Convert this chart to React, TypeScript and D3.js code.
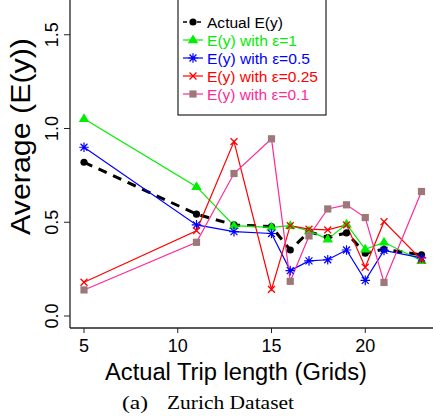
import React from 'react';
import * as d3 from 'd3';

// trip length (grids)
const tripLength = [5, 11, 13, 15, 16, 17, 18, 19, 20, 21, 23];

const actualEy = [0.82, 0.543, 0.486, 0.477, 0.352, 0.45, 0.418, 0.443, 0.335, 0.356, 0.326];
const eps1 = [1.052, 0.69, 0.482, 0.473, 0.482, 0.454, 0.41, 0.49, 0.356, 0.393, 0.295];
const eps05 = [0.9, 0.486, 0.45, 0.44, 0.242, 0.294, 0.3, 0.352, 0.19, 0.35, 0.31];
const eps025 = [0.18, 0.455, 0.93, 0.142, 0.482, 0.463, 0.459, 0.486, 0.26, 0.503, 0.3];
const eps01 = [0.139, 0.393, 0.76, 0.945, 0.185, 0.427, 0.571, 0.593, 0.525, 0.179, 0.664];

const seriesNames = [
  'Actual E(y)',
  'E(y) with ε=1',
  'E(y) with ε=0.5',
  'E(y) with ε=0.25',
  'E(y) with ε=0.1',
];

const xTicks = [5, 10, 15, 20];
const yTicks = [0, 0.5, 1.0, 1.5];

const W = 433;
const H = 416;
const SANS = '"Liberation Sans", Arial, Helvetica, sans-serif';
const SERIF = '"Liberation Serif", "Times New Roman", serif';

// rendered widths of legend labels in the original (px)
const legendTextLen = [76, 90, 103, 111, 102];

type Style = {
  color: string;
  markColor: string;
  width: number;
  dash?: string;
  marker: 'circle' | 'triangle' | 'star' | 'cross' | 'square';
};

const styles: Style[] = [
  { color: '#000', markColor: '#000', width: 3, dash: '9,7', marker: 'circle' },
  { color: '#00ee00', markColor: '#00ee00', width: 1.2, marker: 'triangle' },
  { color: '#0000ff', markColor: '#0000ff', width: 1.2, marker: 'star' },
  { color: '#ff0000', markColor: '#ff0000', width: 1.2, marker: 'cross' },
  { color: '#ff2a96', markColor: '#9c7878', width: 1.2, marker: 'square' },
];

const Marker = ({ x, y, s }: { x: number; y: number; s: Style }) => {
  const c = s.markColor;
  if (s.marker === 'circle') return <circle cx={x} cy={y} r={3.6} fill={c} />;
  if (s.marker === 'triangle') {
    const r = 5.5;
    return (
      <path
        d={`M${x},${y - r} L${x + r * 0.95},${y + r * 0.6} L${x - r * 0.95},${y + r * 0.6} Z`}
        fill={c}
      />
    );
  }
  if (s.marker === 'square') return <rect x={x - 3.6} y={y - 3.6} width={7.2} height={7.2} fill={c} />;
  const r = 4.8;
  const d = r * 0.72;
  const cross = `M${x - d},${y - d} L${x + d},${y + d} M${x - d},${y + d} L${x + d},${y - d}`;
  if (s.marker === 'cross') return <path d={cross} stroke={c} strokeWidth={1.3} fill="none" />;
  return (
    <path
      d={`${cross} M${x - r},${y} L${x + r},${y} M${x},${y - r} L${x},${y + r}`}
      stroke={c}
      strokeWidth={1.2}
      fill="none"
    />
  );
};

export default function App() {
  const x = d3.scaleLinear().domain([4.28, 23.72]).range([70.5, 435]);
  const y = d3.scaleLinear().domain([-0.064, 1.664]).range([328, 4]);

  const allSeries = [actualEy, eps1, eps05, eps025, eps01];
  const line = d3
    .line<number>()
    .x((_, i) => x(tripLength[i]))
    .y((d) => y(d));

  const legendY = d3.scaleLinear().domain([0, 4]).range([22, 94]);

  return (
    <svg
      width={W}
      height={H}
      style={{ position: 'absolute', left: 0, top: 0, background: '#fff' }}
      fontFamily={SANS}
    >
      <rect width={W} height={H} fill="#fff" />

      {allSeries.map((vals, k) => (
        <path
          key={'l' + k}
          d={line(vals) ?? ''}
          fill="none"
          stroke={styles[k].color}
          strokeWidth={styles[k].width}
          strokeDasharray={styles[k].dash}
        />
      ))}
      {allSeries.map((vals, k) => (
        <g key={'m' + k}>
          {vals.map((v, i) => (
            <Marker key={i} x={x(tripLength[i])} y={y(v)} s={styles[k]} />
          ))}
        </g>
      ))}

      {/* axes box (left + bottom) */}
      <line x1={70} x2={70} y1={0} y2={328} stroke="#222" strokeWidth={1.3} />
      <line x1={70} x2={W} y1={328} y2={328} stroke="#222" strokeWidth={1.3} />

      {yTicks.map((t) => (
        <g key={'yt' + t}>
          <line x1={64} x2={70} y1={y(t)} y2={y(t)} stroke="#222" strokeWidth={1} />
          <text
            transform={`translate(57.5,${y(t)}) rotate(-90)`}
            textAnchor="middle"
            fontSize={18}
            fill="#000"
          >
            {d3.format('.1f')(t)}
          </text>
        </g>
      ))}
      {xTicks.map((t) => (
        <g key={'xt' + t}>
          <line x1={x(t)} x2={x(t)} y1={328} y2={333} stroke="#222" strokeWidth={1} />
          <text x={x(t)} y={352} textAnchor="middle" fontSize={18} fill="#000">
            {t}
          </text>
        </g>
      ))}

      <text
        transform="translate(30,136.5) rotate(-90)"
        textAnchor="middle"
        fontSize={27}
        textLength={197}
        lengthAdjust="spacingAndGlyphs"
        fill="#000"
      >
        Average (E(y))
      </text>
      <text
        x={105}
        y={380}
        fontSize={23}
        textLength={262}
        lengthAdjust="spacingAndGlyphs"
        fill="#000"
      >
        Actual Trip length (Grids)
      </text>

      <text x={122} y={409} fontFamily={SERIF} fontSize={19} textLength={26} lengthAdjust="spacingAndGlyphs" fill="#000">
        (a)
      </text>
      <text x={167} y={409} fontFamily={SERIF} fontSize={19} textLength={127} lengthAdjust="spacingAndGlyphs" fill="#000">
        Zurich Dataset
      </text>

      {/* legend */}
      <rect x={178} y={-5} width={148} height={120} fill="#fff" stroke="#222" strokeWidth={1.2} />
      {seriesNames.map((name, k) => {
        const ly = legendY(k);
        const s = styles[k];
        return (
          <g key={'lg' + k}>
            <line
              x1={183}
              x2={203}
              y1={ly}
              y2={ly}
              stroke={s.color}
              strokeWidth={k === 0 ? 1.6 : 1.2}
              strokeDasharray={k === 0 ? '4,3' : undefined}
            />
            <Marker x={193} y={ly} s={s} />
            <text
              x={207}
              y={ly + 5.6}
              fontSize={15.5}
              textLength={legendTextLen[k]}
              lengthAdjust="spacingAndGlyphs"
              fill={s.color}
            >
              {name}
            </text>
          </g>
        );
      })}
    </svg>
  );
}
